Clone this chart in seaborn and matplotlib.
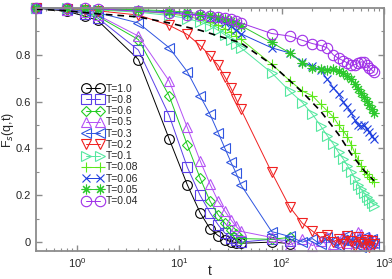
# self-intermediate scattering function F_s(q,t) for several temperatures

import seaborn as sns
import matplotlib.pyplot as plt
import numpy as np
from matplotlib.ticker import LogLocator, MultipleLocator, NullFormatter

# time points of the simulation output
t = [0.4, 0.8, 1.2, 1.6, 4, 8, 12, 16, 20, 24, 28, 32, 36, 40, 80, 120,
     160, 200, 240, 280, 320, 360, 400, 440, 480, 520, 560, 600, 640, 680, 720, 760, 800]

# F_s(q,t) for each temperature
fs_T10 = [1.0, 0.986, 0.965, 0.947, 0.78, 0.44, 0.245, 0.126, 0.057, 0.028, 0.011, 0.002, -0.002, -0.005, 0.0, -0.006]
fs_T08 = [1.0, 0.99, 0.975, 0.958, 0.82, 0.54, 0.32, 0.20, 0.126, 0.074, 0.038, 0.019, 0.008, 0.0, 0.012, 0.006]
fs_T06 = [1.0, 0.992, 0.98, 0.965, 0.865, 0.624, 0.416, 0.274, 0.175, 0.117, 0.081, 0.053, 0.033, 0.015, 0.012, 0.02]
fs_T05 = [1.0, 0.993, 0.983, 0.97, 0.88, 0.688, 0.49, 0.348, 0.248, 0.175, 0.132, 0.095, 0.067, 0.046, 0.02, -0.012,
          0.014, -0.015, 0.005, 0.02, -0.01, 0.0, 0.025, -0.005, 0.01, -0.015, 0.043, 0.035, 0.0, -0.01, 0.02, -0.005, 0.01]
fs_T03 = [1.0, 0.995, 0.988, 0.98, 0.936, 0.83, 0.728, 0.624, 0.546, 0.468, 0.40, 0.342, 0.294, 0.245, 0.045, 0.024,
          0.0, 0.015, -0.01, 0.02, 0.005, -0.015, 0.01, 0.03, -0.005, 0.015, 0.0, -0.02, 0.02, 0.005, -0.01, 0.015, -0.005]
fs_T02 = [1.0, 0.997, 0.993, 0.988, 0.97, 0.926, 0.887, 0.84, 0.796, 0.755, 0.705, 0.658, 0.61, 0.568, 0.298, 0.15,
          0.08, 0.047, 0.02, 0.03, 0.0, 0.015, -0.01, 0.025, 0.005, -0.015, 0.02, 0.0, -0.01, 0.01, -0.02, 0.005, -0.01]
fs_T01 = [1.0, 0.998, 0.995, 0.992, 0.982, 0.968, 0.955, 0.94, 0.925, 0.905, 0.885, 0.865, 0.848, 0.83, 0.723, 0.645,
          0.596, 0.546, 0.497, 0.454, 0.419, 0.383, 0.355, 0.326, 0.30, 0.27, 0.245, 0.225, 0.21, 0.192, 0.18, 0.168, 0.156]
fs_T008 = [1.0, 0.998, 0.996, 0.994, 0.986, 0.976, 0.964, 0.952, 0.94, 0.926, 0.912, 0.897, 0.882, 0.867, 0.76, 0.69,
           0.645, 0.625, 0.589, 0.56, 0.535, 0.50, 0.475, 0.45, 0.415, 0.38, 0.35, 0.325, 0.305, 0.29, 0.28, 0.27, 0.258]
fs_T006 = [1.0, 0.999, 0.997, 0.995, 0.99, 0.984, 0.976, 0.968, 0.958, 0.948, 0.936, 0.922, 0.906, 0.89, 0.83, 0.808,
           0.768, 0.752, 0.735, 0.695, 0.66, 0.632, 0.60, 0.575, 0.55, 0.52, 0.50, 0.495, 0.50, 0.485, 0.47, 0.455, 0.44]
fs_T005 = [1.0, 0.999, 0.998, 0.996, 0.993, 0.988, 0.982, 0.975, 0.968, 0.96, 0.952, 0.943, 0.934, 0.925, 0.853, 0.808,
           0.765, 0.745, 0.74, 0.735, 0.738, 0.73, 0.722, 0.71, 0.695, 0.675, 0.655, 0.638, 0.62, 0.603, 0.585, 0.568, 0.55]
fs_T004 = [1.0, 0.999, 0.998, 0.997, 0.986, 0.979, 0.972, 0.968, 0.965, 0.962, 0.958, 0.952, 0.945, 0.936, 0.891, 0.88,
           0.862, 0.848, 0.84, 0.83, 0.80, 0.785, 0.775, 0.765, 0.755, 0.758, 0.766, 0.77, 0.768, 0.758, 0.745, 0.735, 0.725]

# dashed fit curve
t_fit = [0.4, 0.8, 1.6, 4, 8, 16, 40, 80, 120, 160, 240, 360, 480, 640, 800]
fs_fit = [0.995, 0.988, 0.975, 0.962, 0.936, 0.905, 0.851, 0.759, 0.69, 0.64, 0.56, 0.46, 0.375, 0.305, 0.262]

labels = ['T=1.0', 'T=0.8', 'T=0.6', 'T=0.5', 'T=0.3', 'T=0.2', 'T=0.1', 'T=0.08', 'T=0.06', 'T=0.05', 'T=0.04']
series = [fs_T10, fs_T08, fs_T06, fs_T05, fs_T03, fs_T02, fs_T01, fs_T008, fs_T006, fs_T005, fs_T004]
colors = ['black', '#5b3fe8', '#22cc22', '#b452f5', '#2f55e0', '#f02020', '#55e8a0', '#5ce81a', '#1f3fe0', '#2cc82c', '#a030e8']
markers = ['o', 's', 'D', '^', '<', 'v', '>', '+', 'x', (8, 2, 0), 'o']
msizes = [7, 6.5, 5, 7, 7, 7, 7, 7.5, 6, 7, 7.5]

sns.set_style("ticks")
plt.rcParams['font.family'] = ['Liberation Sans', 'DejaVu Sans']

fig = plt.figure(figsize=(3.92, 2.79), dpi=100)
ax = fig.add_axes([36 / 392, 28 / 279, 348 / 392, 243 / 279])

for lab, fs, c, m, ms in zip(labels, series, colors, markers, msizes):
    sns.lineplot(x=t[:len(fs)], y=fs, ax=ax, color=c, lw=0.7, marker=m, markersize=ms,
                 markerfacecolor='none', markeredgecolor=c, markeredgewidth=0.8,
                 label=lab, estimator=None, sort=False, clip_on=False)

sns.lineplot(x=t_fit, y=fs_fit, ax=ax, color='black', lw=1.2, linestyle=(0, (4, 3)),
             estimator=None, sort=False)

ax.set_xscale('log')
ax.set_xlim(0.4, 1000)
ax.set_ylim(-0.038, 1.0)

ax.xaxis.set_major_locator(LogLocator(base=10))
ax.xaxis.set_minor_locator(LogLocator(base=10, subs=np.arange(2, 10)))
ax.xaxis.set_minor_formatter(NullFormatter())
ax.set_yticks([0, 0.2, 0.4, 0.6, 0.8])
ax.set_yticklabels(['0', '0.2', '0.4', '0.6', '0.8'])
ax.yaxis.set_minor_locator(MultipleLocator(0.1))

ax.tick_params(which='both', direction='in', top=True, right=True, color='#8c8c8c', labelsize=8)
ax.tick_params(which='major', length=4, width=1)
ax.tick_params(which='minor', length=2.2, width=0.8)
for sp in ax.spines.values():
    sp.set_color('#8c8c8c')
    sp.set_linewidth(1.3)

ax.set_xlabel('t', fontsize=10)
ax.set_ylabel('F$_s$(q,t)', fontsize=9)
ax.xaxis.set_label_coords(0.5, -0.052)
ax.yaxis.set_label_coords(-0.057, 0.5)

ax.legend(loc='upper left', bbox_to_anchor=(0.12, 0.71), frameon=False, numpoints=2,
          fontsize=7.5, labelspacing=0.12, handlelength=1.9, handletextpad=0.3, borderpad=0)

plt.savefig('out.png', dpi=100)
